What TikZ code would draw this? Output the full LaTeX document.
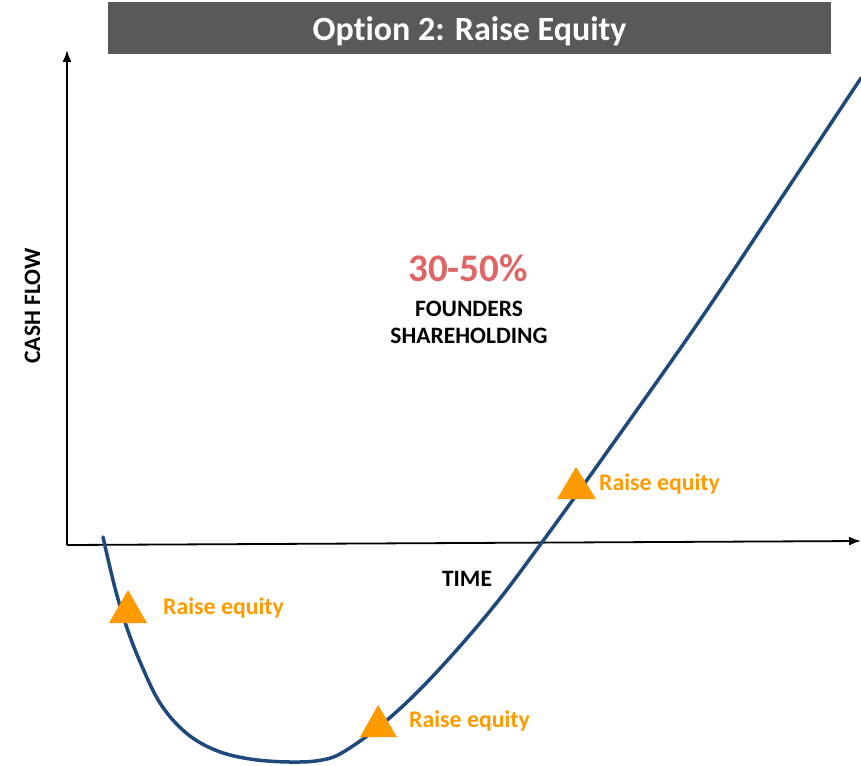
\documentclass[tikz,border=0pt]{standalone}
\usepackage{fontspec}
\setmainfont{Carlito}[RawFeature=-liga]
\usetikzlibrary{arrows.meta}
\definecolor{bargray}{HTML}{595959}
\definecolor{curveblue}{HTML}{1F497D}
\definecolor{eqorange}{HTML}{FF9B00}
\definecolor{pctred}{HTML}{E06666}
\tikzset{
  axis/.style={line width=1.8pt, -{Latex[length=12pt,width=9pt]}},
  tri/.style={fill=eqorange},
  eqlabel/.style={anchor=base west, inner sep=0pt, text=eqorange, font=\fontsize{23.8}{28}\selectfont\bfseries},
  caption/.style={inner sep=0pt, font=\fontsize{23.5}{28}\selectfont\bfseries},
}
\begin{document}
\begin{tikzpicture}[x=1pt,y=-1pt]
\useasboundingbox (0,0) rectangle (861,765);
% title bar
\fill[bargray] (108,2) rectangle (831,54);
\node[text=white, inner sep=0pt, anchor=base, font=\fontsize{34}{40}\selectfont\bfseries] (title) at (469.5,41) {Option 2: Raise Equity};
% axes
\coordinate (origin) at (67,545);
\coordinate (ytop) at (67,50);
\coordinate (xend) at (861,541);
\draw[axis] (origin) -- (ytop);
\draw[axis] (origin) -- (xend);
% curve
\draw[curveblue, line width=3.5pt, line cap=round] plot[smooth, tension=0.6] coordinates {
 (103,537) (115,588) (127,628) (141,664) (160,703) (185,732) (215,750)
 (250,759) (290,762) (322,760) (345,751) (386,721) (432,677) (490,611)
 (540,545) (607,452) (700,320) (780,200) (861,78)};
% triangles
\fill[tri] (128,590) -- (147,623) -- (109,623) -- cycle;
\fill[tri] (378,705) -- (397,737) -- (360,737) -- cycle;
\fill[tri] (576,467) -- (596,499) -- (557,499) -- cycle;
% labels
\node[eqlabel] (l1) at (163,614) {Raise equity};
\node[eqlabel] (l2) at (409,727) {Raise equity};
\node[eqlabel] (l3) at (599,490) {Raise equity};
\node[anchor=base, inner sep=0pt, text=pctred, font=\fontsize{39}{44}\selectfont\bfseries] (pct) at (468,281) {30-50\%};
\node[caption, anchor=base] (f1) at (469,316) {FOUNDERS};
\node[caption, anchor=base] (f2) at (469,343) {SHAREHOLDING};
\node[caption, anchor=base] (time) at (467,586) {TIME};
\node[caption, rotate=90, anchor=base] (cash) at (40,306) {CASH FLOW};
\end{tikzpicture}
\end{document}
